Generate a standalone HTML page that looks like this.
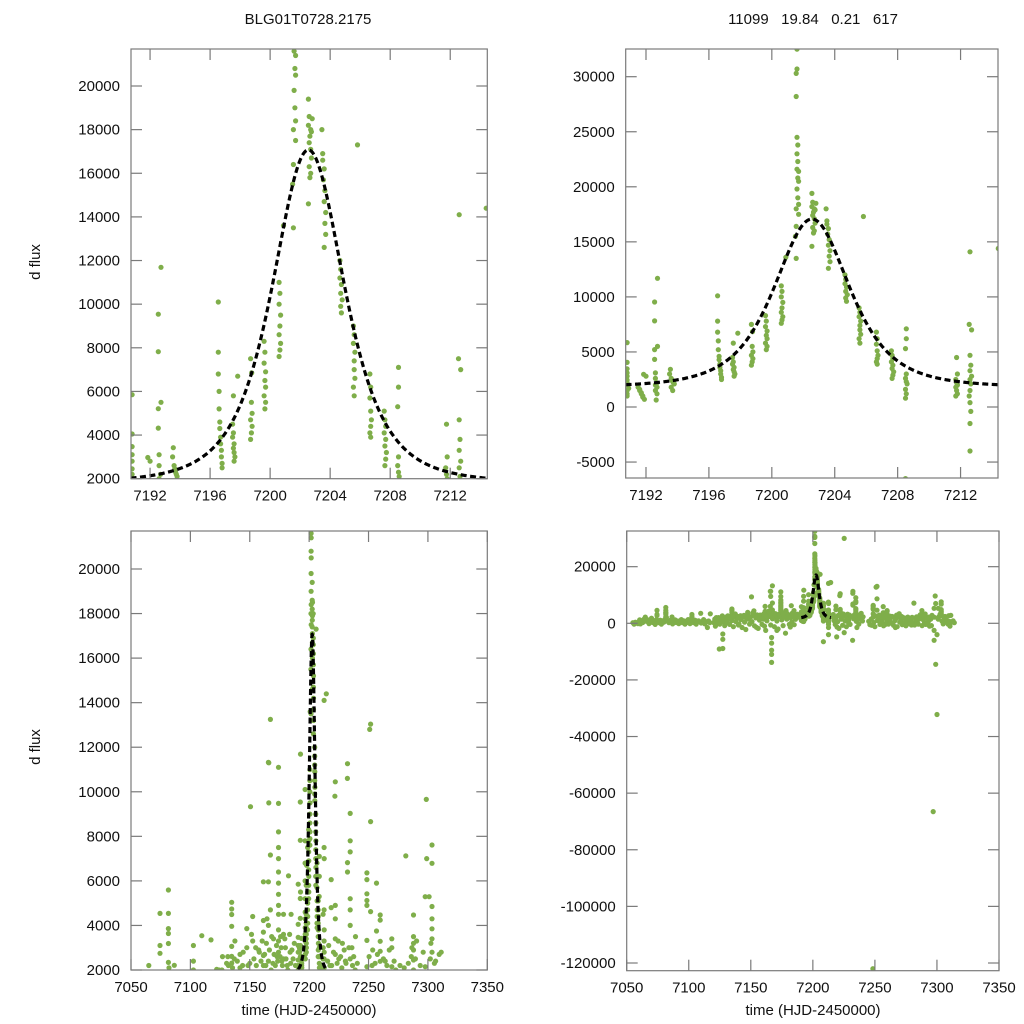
<!DOCTYPE html>
<html><head><meta charset="utf-8">
<style>
html,body{margin:0;padding:0;background:#fff;width:1024px;height:1024px;overflow:hidden;}
svg{display:block;overflow:hidden;font-family:"Liberation Sans",Arial,sans-serif;}
</style></head>
<body>
<svg id="chart" width="1024" height="1024" viewBox="0 0 1024 1024" xmlns="http://www.w3.org/2000/svg">
<rect width="1024" height="1024" fill="#fff"/>
<text x="308" y="24" font-size="15" text-anchor="middle" fill="#111">BLG01T0728.2175</text>
<text x="813" y="24" font-size="15" text-anchor="middle" fill="#111" xml:space="preserve">11099   19.84   0.21   617</text>
<text transform="translate(40,262) rotate(-90)" font-size="15" text-anchor="middle" fill="#111">d flux</text>
<text transform="translate(40,747) rotate(-90)" font-size="15" text-anchor="middle" fill="#111">d flux</text>
<text x="309" y="1015" font-size="15" text-anchor="middle" fill="#111">time (HJD-2450000)</text>
<text x="813" y="1015" font-size="15" text-anchor="middle" fill="#111">time (HJD-2450000)</text>
<g id="panels"></g>
</svg>
<script>
// observations [time, flux]
const eventObs = [
[7190.8,5850],[7190.8,4050],[7190.8,3470],[7190.8,3100],[7190.8,2800],[7190.8,2450],[7190.8,2200],[7190.8,1500],[7190.8,1200],[7190.8,2000],[7190.8,1000],[7190.9,1700],
[7191.5,1800],[7191.6,1500],[7191.7,1200],[7191.8,900],[7191.9,700],[7191.8,1000],[7191.7,1300],[7191.6,1600],[7191.85,2970],[7192.0,2800],
[7192.55,9540],[7192.55,7820],[7192.55,5210],[7192.55,4320],[7192.6,3100],[7192.6,2600],[7192.7,2200],[7192.73,11690],[7192.73,5500],[7192.7,1800],[7192.6,1500],[7192.7,1200],[7192.65,640],[7192.6,2000],
[7193.55,3420],[7193.6,2600],[7193.65,2450],[7193.7,2300],[7193.75,2200],[7193.8,2100],[7193.6,1800],[7193.7,1500],[7193.5,3000],
[7196.55,10100],[7196.55,7800],[7196.55,6800],[7196.6,6000],[7196.6,5200],[7196.65,4600],[7196.65,4300],[7196.7,3900],[7196.7,3600],[7196.75,3300],[7196.75,3000],[7196.8,2700],[7196.8,2500],
[7197.5,4500],[7197.55,4100],[7197.5,3900],[7197.6,3600],[7197.55,3400],[7197.6,3200],[7197.65,3000],[7197.6,2800],[7197.84,6700],[7197.55,5800],
[7198.7,7500],[7198.77,6850],[7198.75,5500],[7198.8,5000],[7198.7,4700],[7198.8,4400],[7198.75,4100],[7198.7,3800],
[7199.6,8300],[7199.65,7800],[7199.6,7300],[7199.7,6900],[7199.65,6500],[7199.7,6200],[7199.6,5800],[7199.7,5500],[7199.65,5200],
[7200.6,11000],[7200.65,10500],[7200.6,10000],[7200.7,9500],[7200.65,9000],[7200.6,8600],[7200.7,8200],[7200.65,7900],[7200.6,7600],[7200.89,13600],
[7201.55,13500],[7201.5,15500],[7201.55,16400],[7201.6,21600],[7201.7,21400],[7201.65,20800],[7201.7,20500],[7201.6,19800],[7201.65,19000],[7201.7,18400],[7201.55,18000],[7201.7,17500],[7201.6,24500],[7201.65,23800],[7201.6,23000],[7201.65,22300],[7201.55,28200],[7201.55,30300],[7201.6,30700],[7201.6,32500],
[7202.55,19400],[7202.6,18600],[7202.55,18200],[7202.7,18000],[7202.65,17700],[7202.6,17400],[7202.7,17100],[7202.75,16700],[7202.6,16300],[7202.7,16000],[7202.65,15800],[7202.55,14600],[7202.8,18500],[7202.75,17900],
[7203.45,18000],[7203.5,16600],[7203.6,16200],[7203.55,15700],[7203.65,15200],[7203.6,14700],[7203.7,14200],[7203.65,13700],[7203.7,13200],[7203.6,12600],[7203.5,16900],
[7204.65,12000],[7204.7,11600],[7204.65,11200],[7204.75,10900],[7204.7,10500],[7204.8,10200],[7204.7,9900],[7204.75,9600],
[7205.55,9000],[7205.6,8600],[7205.55,8200],[7205.65,7800],[7205.6,7400],[7205.6,7000],[7205.65,6600],[7205.55,6200],[7205.6,5800],[7205.82,17300],
[7206.65,6800],[7206.7,6200],[7206.65,5700],[7206.7,5100],[7206.75,4700],[7206.7,4400],[7206.65,4100],[7206.7,3900],
[7207.6,5100],[7207.65,4700],[7207.7,4400],[7207.6,4100],[7207.7,3800],[7207.65,3500],[7207.75,3200],[7207.7,2900],[7207.65,2600],
[7208.55,7100],[7208.55,6200],[7208.5,5300],[7208.55,3000],[7208.5,2600],[7208.55,2300],[7208.6,2100],[7208.5,1600],[7208.55,1200],[7208.5,800],[7208.5,-6500],
[7211.75,4500],[7211.8,3000],[7211.7,2500],[7211.75,2200],[7211.8,2000],[7211.7,1800],[7211.75,1500],[7211.8,1200],[7211.7,1000],
[7212.6,14100],[7212.55,7500],[7212.7,7000],[7212.6,4700],[7212.65,3800],[7212.6,3300],[7212.7,2800],[7212.6,2500],[7212.65,2100],[7212.6,1500],[7212.55,1000],[7212.6,400],[7212.65,-400],[7212.6,-1500],[7212.6,-4000],[7214.4,14400]
];
const seasonObsA = [
[7055,200],[7056,-300],[7057,400],[7058,100],[7059,-100],[7060,600],[7061,-200],[7062,900],[7063,300],[7064,1500],[7065,2200],[7066,700],[7067,1200],[7068,-100],[7069,500],[7070,1800],[7071,300],[7072,900],[7073,-400],[7074,1300],[7074.4,4540],[7074.4,3100],[7074.4,2750],[7075,600],[7076,200],[7077,1100],[7078,-300],[7079,800],[7080,400],[7081.5,5590],[7081.5,4540],[7081.5,3860],[7081.5,3640],[7081.5,3190],[7081.5,2340],[7081,1500],[7082,2100],[7083,700],[7084,200],[7085,1000],[7086.5,2210],[7087,-200],[7088,500],[7089,1200],[7090,300],[7091,800],[7092,-100],[7093,600],[7094,1300],[7095,200],[7096,900],[7097,-300],[7098,400],[7099,1000],[7100,300],[7101,-100],[7102.5,3100],[7102.5,2400],[7102.5,2000],[7103,700],[7104,200],[7105,1100],[7106,-300],[7107,500],[7108,900],[7109.6,3540],[7110,100],[7111,600],[7112,1300],[7113,-200],[7114,400],[7115,-1500],[7116,800],[7117.4,3350],[7117,200]
];
const seasonObsB = [
[7120,300],[7121,1500],[7122.2,2030],[7122,-500],[7123,900],[7124,2000],[7124.6,-9080],[7125,-300],[7126,1200],[7127.4,-3770],[7127.4,-5650],[7127.4,-8900],[7127,2600],[7128,500],[7129,-800],[7130,1600],[7131,300],[7132,2200],[7133,-400],[7134.8,5040],[7134.8,4740],[7134.8,4490],[7134.8,3960],[7134.8,3060],[7134.8,2610],[7134.8,2310],[7135,1000],[7136,-1200],[7137,2500],[7138,600],[7139,1800],[7140,-600],[7141.8,2700],[7141.8,2100],[7142,1300],[7143,-1500],[7144,2200],[7145,400],[7146,-2200],[7147.5,3860],[7147.5,3000],[7148,1500],[7149,-300],[7150.6,9330],[7150,2300],[7151,600],[7152.5,4400],[7152.5,3300],[7153,-900],[7154,1900],[7155,3000],[7156,-1800],[7157,1100],[7158,2800],[7159,-400],[7160,1500],[7161.5,5960],[7161.5,4220],[7161.5,3700],[7161.5,2650],[7161.5,2200],[7162,-2500],[7163,900],[7164,3200],[7165.7,11320],[7165.7,5960],[7165.7,4000],[7165.7,2400],[7166,-600],[7167.4,13250],[7167.4,7160],[7167.4,4700],[7166.8,-13800],[7166.8,-11000],[7166.8,-9500],[7166.8,-7000],[7166.8,-5000],[7166,11300],[7166,9500],[7168,2000],[7169,-1200],[7170,3400],[7171,800],[7172,-2000],[7173,2600],[7174.2,11100],[7174.2,9480],[7174.2,8200],[7174.2,7500],[7174.2,7000],[7174.2,6400],[7174.2,5900],[7174.2,5400],[7174.2,4900],[7174.2,4500],[7174.2,3800],[7174.2,3300],[7174.2,2800],[7175,1200],[7176,-800],[7177,2400],[7178.4,4500],[7178.4,3600],[7178.4,2500],[7178,-3500],[7179,1500],[7180,3000],[7181,-400],[7182.6,6230],[7182,2000],[7183,500],[7184,2800],[7185,-500],[7186,1400]
];
const seasonObsD = [
[7217,1000],[7218.6,6060],[7218.6,4800],[7218,-400],[7219.2,-4800],[7219,2200],[7220,600],[7221,-1800],[7221.7,9800],[7222,10450],[7222,4900],[7222,4300],[7222,3400],[7222,2700],[7223,1500],[7224,-700],[7225.3,30000],[7225.3,-3300],[7225,2500],[7226,800],[7227,-1200],[7228,3200],[7229,1100],[7230,-400],[7231,2300],[7232.3,11260],[7232.2,10600],[7232.3,6820],[7232.3,6400],[7232,-6000],[7233,1600],[7234.6,9030],[7234.6,7800],[7234.6,7300],[7234.6,5200],[7234.6,4700],[7234.6,4000],[7234.6,2500],[7235,700],[7236,3000],[7237,-300],[7238.8,2000],[7238,1500],[7239,3500],[7240,800]
];
const seasonObsE = [
[7245,700],[7246,-500],[7247,1500],[7248.6,6360],[7248.6,6060],[7248.6,5420],[7248.6,5120],[7248.6,4900],[7248.6,3330],[7248.6,2150],[7248.4,-122000],[7249,300],[7250,-1200],[7251.7,13040],[7251.7,8660],[7251.7,4620],[7251,12800],[7252,1000],[7253,2200],[7254,-400],[7255,1300],[7256.7,5900],[7256.7,3750],[7256,500],[7257,-900],[7258,1800],[7259.8,4470],[7259.8,4240],[7259.8,3290],[7259.8,2840],[7259.8,2390],[7260,600],[7261,-300],[7262,1500],[7263,200],[7264,2400],[7265,-700],[7266,900],[7267,1700],[7268,-1200],[7269.6,3400],[7269.6,3000],[7269.6,2150],[7270,400],[7271,1200],[7272,-500],[7273,2000],[7274,300],[7275,-900],[7276,1500],[7277,700],[7278,-200],[7279,1100],[7280,2100],[7281.4,7120],[7281,100],[7282,-600],[7283,1400],[7284,500],[7285,-300],[7286,2600],[7287.9,4470],[7287.9,3500],[7287.9,3200],[7287.9,2900],[7287.9,2450],[7287.9,2000],[7288,-800],[7289,1200],[7290,300],[7291,-400],[7292,1900],[7293,600],[7294,-1000],[7295,1500],[7296,2800],[7297.7,5290],[7297.7,2150],[7297.7,-2500],[7297.7,-6000],[7298.6,9660],[7297,-66500],[7300,-32200],[7299,-14500],[7299,7000],[7300,-4000],[7301,5290],[7301,1500],[7302,2500],[7303.4,7610],[7303.4,6790],[7303.4,4850],[7303.4,4300],[7303.4,3850],[7303.4,3400],[7303.4,2800],[7304,800],[7305,-200],[7306,1500],[7307,600],[7308,1100],[7309,-300],[7310,700],[7311.2,2800],[7312,400],[7313,900],[7314,200]
];
// extra low-level points filling the dense band near the detection floor
const seasonObsF = [
[7130.5,2300],[7131.5,2600],[7135.5,2100],[7137.5,3300],[7139.5,2400],[7144.5,2800],[7148.5,2200],[7151.5,3600],[7153.5,2500],[7155.5,2200],[7157.5,2900],[7159.5,2400],[7160.5,3300],[7162.5,2700],[7163.5,2200],[7164.5,4300],[7166.5,2900],[7168.5,3500],[7169.5,2300],[7170.5,2700],[7171.5,2200],[7172.5,3100],[7173.5,2400],[7175.5,2600],[7176.5,3000],[7177.5,2200],[7179.5,3400],[7180.5,2500],[7181.5,2200],[7183.5,3600],[7184.5,2300],[7185.5,2900],[7186.5,2500],[7187.5,3200],[7188.5,2200],
[7215.5,2400],[7216.5,3100],[7217.5,2200],[7220.5,2800],[7223.5,2300],[7224.5,3300],[7226.5,2600],[7227.5,2100],[7229.5,2900],[7230.5,2400],[7233.5,3000],[7236.5,2200],[7237.5,2600],[7240.5,2300],
[7250.5,2600],[7253.5,2900],[7255.5,2300],[7257.5,2700],[7262.5,2500],[7265.5,2200],[7267.5,2900],[7271.5,2400],[7276.5,2200],[7283.5,2300],[7286.5,3000],[7289.5,2500],[7290.5,3300],[7293.5,2200],[7302.5,3200],[7306.5,2400],[7309.5,2700],
[7060.5,1200],[7065.5,800],[7070.5,1000],[7078.5,900],[7085.5,1100],[7092.5,700],[7099.5,1300],[7106.5,800],[7112.5,1000],[7121.5,-1000],[7126.5,2000],[7133.5,1500],[7140.5,-300],[7146.5,1800],[7154.5,-1400],[7161,-1000],[7167.5,1600],[7171,-2500],[7176,3500],[7181.8,-1300],[7184.8,4500],[7219.5,-1300],[7228.5,400],[7235.5,-1500],[7247.5,-700],[7258.5,-400],[7266.5,-1500],[7274.5,1800],[7279.5,-600],[7285.5,1500],[7295.5,-800],[7300.5,1900],[7305.5,2300],[7310.5,-1000]
];
// model parameters: [t0, baseline, amplitude, width, tStart, tEnd]
const modelParams = [7202.55, 1800, 15270, 4.4, 7190.7, 7214.5];
// tick labels
const ticksXZoom = [7192,7196,7200,7204,7208,7212];
const ticksXFull = [7050,7100,7150,7200,7250,7300,7350];
const ticksYTL = [2000,4000,6000,8000,10000,12000,14000,16000,18000,20000];
const ticksYTR = [-5000,0,5000,10000,15000,20000,25000,30000];
const ticksYBL = [2000,4000,6000,8000,10000,12000,14000,16000,18000,20000];
const ticksYBR = [-120000,-100000,-80000,-60000,-40000,-20000,0,20000];

const allObs = eventObs.concat(seasonObsA, seasonObsB, seasonObsD, seasonObsE, seasonObsF);
const NS = "http://www.w3.org/2000/svg";
function mk(tag, attrs, parent){const e=document.createElementNS(NS,tag);for(const k in attrs)e.setAttribute(k,attrs[k]);parent.appendChild(e);return e;}
function lin(d0,d1,p0,p1){return v=>p0+(v-d0)*(p1-p0)/(d1-d0);}
function model(t){const x=(t-modelParams[0])/modelParams[3];return modelParams[1]+modelParams[2]*Math.pow(1+x*x,-2);}

const panels = [
 {name:'top-left',L:131,R:487.3,T:49,B:478.7,sx:lin(7190.73,7214.47,131,487.3),sy:lin(2000,20000,478.7,86),xt:ticksXZoom,yt:ticksYTL},
 {name:'top-right',L:625.7,R:998,T:49,B:478,sx:lin(7190.71,7214.38,625.7,998),sy:lin(0,30000,407,76.7),xt:ticksXZoom,yt:ticksYTR},
 {name:'bottom-left',L:131,R:487.3,T:531,B:970,sx:lin(7050,7350,131,487.3),sy:lin(2000,20000,970,569),xt:ticksXFull,yt:ticksYBL},
 {name:'bottom-right',L:626.7,R:999,T:531,B:970.7,sx:lin(7050,7350,626.7,999),sy:lin(0,-120000,623.3,963),xt:ticksXFull,yt:ticksYBR}
];
const root=document.getElementById('panels');
panels.forEach((p,i)=>{
 const g=mk('g',{},root);
 
 
 const cp=mk('clipPath',{id:'clip'+i},g);
 mk('rect',{x:p.L,y:p.T,width:p.R-p.L,height:p.B-p.T},cp);
 const pts=mk('g',{'clip-path':'url(#clip'+i+')'},g);
 
 
 allObs.forEach(o=>{
  const cx=p.sx(o[0]), cy=p.sy(o[1]);
  if(cx<p.L-4||cx>p.R+4||cy<p.T-4||cy>p.B+4) return;
  const c=mk('circle',{cx:cx.toFixed(1),cy:cy.toFixed(1),r:2.6,fill:'#7fae4a'},pts);
  
  
 });
 let d='';const n=600;const t0=modelParams[4],t1=modelParams[5];
 for(let k=0;k<=n;k++){const t=t0+(t1-t0)*k/n;d+=(k?'L':'M')+p.sx(t).toFixed(2)+' '+p.sy(model(t)).toFixed(2);}
 const ml=mk('path',{d:d,fill:'none',stroke:'#000','stroke-width':3.2,'stroke-dasharray':'6 3.5','clip-path':'url(#clip'+i+')'},g);
 
 
 const fr=mk('rect',{x:p.L,y:p.T,width:p.R-p.L,height:p.B-p.T,fill:'none',stroke:'#7a7a7a','stroke-width':1.2},g);
 
 
 const tl=11;
 p.xt.forEach(v=>{
  const x=p.sx(v); if(x<p.L-1||x>p.R+1) return;
  mk('line',{x1:x,x2:x,y1:p.B,y2:p.B-tl,stroke:'#7a7a7a','stroke-width':1.2},g);
  mk('line',{x1:x,x2:x,y1:p.T,y2:p.T+tl,stroke:'#7a7a7a','stroke-width':1.2},g);
  const tx=mk('text',{x:x,y:p.B+22,'font-size':15,'text-anchor':'middle',fill:'#111'},g);
  tx.textContent=v;
  
  
 });
 p.yt.forEach(v=>{
  const y=p.sy(v); if(y<p.T-1||y>p.B+1) return;
  mk('line',{x1:p.L,x2:p.L+tl,y1:y,y2:y,stroke:'#7a7a7a','stroke-width':1.2},g);
  mk('line',{x1:p.R,x2:p.R-tl,y1:y,y2:y,stroke:'#7a7a7a','stroke-width':1.2},g);
  const ty=mk('text',{x:p.L-11,y:y+5,'font-size':15,'text-anchor':'end',fill:'#111'},g);
  ty.textContent=v;
  
  
 });
});
</script>
</body></html>
